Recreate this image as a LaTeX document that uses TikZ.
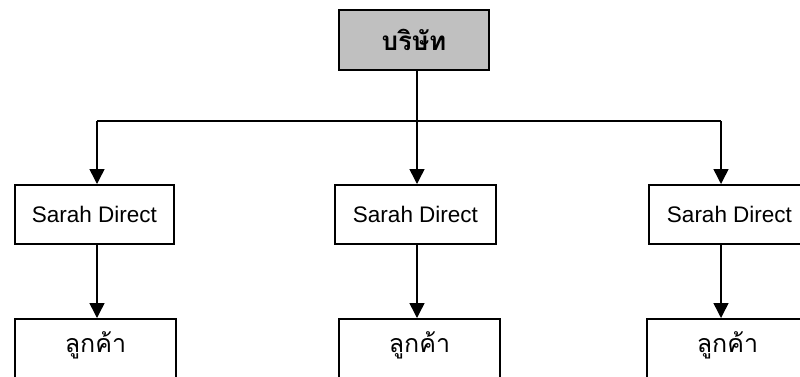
\documentclass[tikz,border=0pt]{standalone}
\usepackage{fontspec}
\setmainfont{Liberation Sans}
\newfontfamily\thaifont[Script=Thai]{Loma}
\usetikzlibrary{arrows.meta}
\definecolor{topgray}{RGB}{192,192,192}
\begin{document}
\begin{tikzpicture}[x=1pt,y=-1pt,
  box/.style={draw=black, line width=2pt, inner sep=0pt, anchor=north west,
              font=\fontsize{22.5}{26}\selectfont},
  thaitext/.style={font=\thaifont\fontsize{25}{29}\selectfont, inner sep=0pt},
  conn/.style={line width=1.5pt},
  arr/.style={conn, -{Triangle[width=15pt,length=15pt]}}]
\useasboundingbox (0,0) rectangle (800,376);
\clip (0,0) rectangle (800,376);
% top node
\node[box, fill=topgray, minimum width=150pt, minimum height=60pt,
      font=\thaifont\bfseries\fontsize{26}{30}\selectfont] (top) at (338,9) {บริษัท};
% second row
\node[box, minimum width=159pt, minimum height=59pt] (sd1) at (14,184) {Sarah Direct};
\node[box, minimum width=161pt, minimum height=59pt] (sd2) at (334,184) {Sarah Direct};
\node[box, minimum width=161pt, minimum height=59pt] (sd3) at (648,184) {Sarah Direct};
% third row (boxes run past the lower edge)
\node[box, minimum width=161pt, minimum height=80pt] (c1) at (14,318) {};
\node[box, minimum width=161pt, minimum height=80pt] (c2) at (338,318) {};
\node[box, minimum width=161pt, minimum height=80pt] (c3) at (646,318) {};
\node[thaitext] (t1) at ([yshift=-27pt]c1.north) {ลูกค้า};
\node[thaitext] (t2) at ([yshift=-27pt]c2.north) {ลูกค้า};
\node[thaitext] (t3) at ([yshift=-27pt]c3.north) {ลูกค้า};
% junctions
\coordinate (hub) at (417,121);
\coordinate (j1) at (97,121);
\coordinate (j3) at (721,121);
% connectors
\draw[conn] (top.south -| hub) -- (hub);
\draw[conn] (j1) -- (j3);
\draw[arr] (j1) -- (j1 |- sd1.north);
\draw[arr] (hub) -- (hub |- sd2.north);
\draw[arr] (j3) -- (j3 |- sd3.north);
\draw[arr] (sd1.south -| j1) -- (c1.north -| j1);
\draw[arr] (sd2.south -| hub) -- (c2.north -| hub);
\draw[arr] (sd3.south -| j3) -- (c3.north -| j3);
\end{tikzpicture}
\end{document}
